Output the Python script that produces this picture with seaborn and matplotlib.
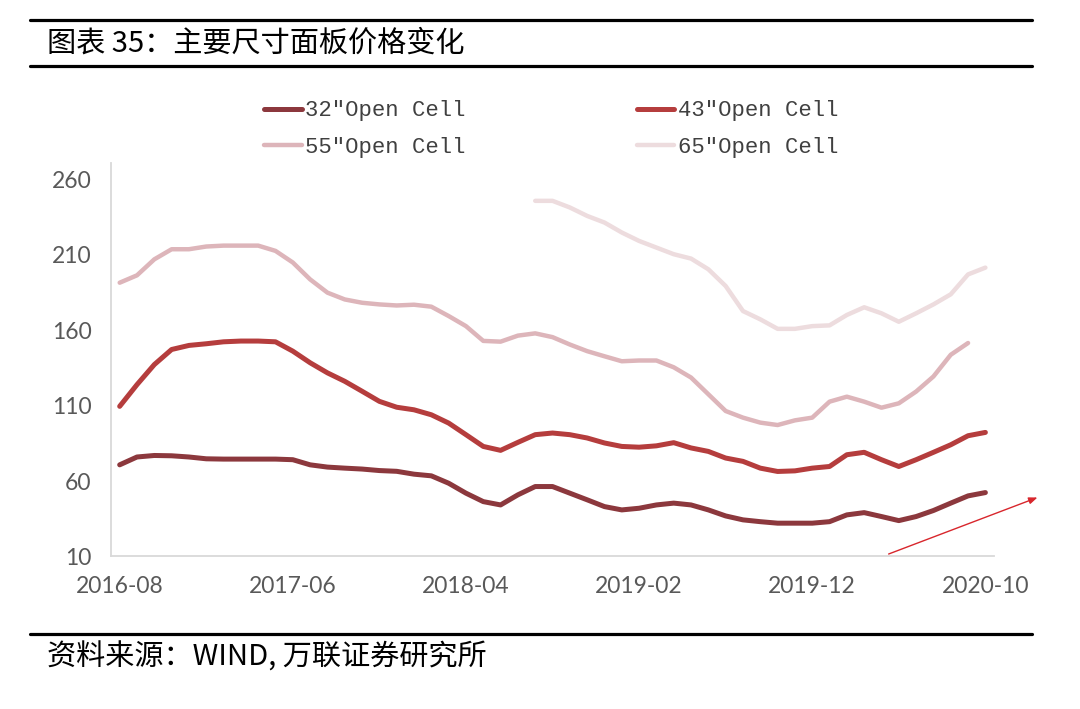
import numpy as np
import matplotlib
matplotlib.use("Agg")
import matplotlib.pyplot as plt
import pandas as pd
import seaborn as sns
from matplotlib.lines import Line2D

# monthly panel prices (USD), 2016-08 .. 2020-10
months = [str(p) for p in pd.period_range("2016-08", "2020-10", freq="M")]
nan = np.nan

p32 = [70.8, 76, 77, 76.8, 76, 74.8, 74.6, 74.6, 74.6, 74.6, 74.2,
       70.8, 69.3, 68.6, 68, 67, 66.5, 64.6, 63.5, 58.6, 52,
       46.4, 44.2, 50.9, 56.4, 56.4, 52, 47.6, 43.1, 40.9, 42,
       44.2, 45.4, 44.2, 40.9, 36.9, 34.3, 33.1, 32.1, 32.1, 32.1,
       33.1, 37.6, 39.1, 36.5, 33.8, 36.5, 40.5, 45.4, 50.2, 52.4]
p43 = [109.6, 124, 137.3, 147.3, 150, 151.1, 152.4, 152.9, 152.9, 152.4, 146.2,
       138.5, 131.8, 126.2, 119.6, 112.9, 109, 107.3, 104, 98.5, 90.8,
       83, 80.4, 85.7, 90.8, 91.9, 90.8, 88.6, 85.3, 83, 82.5,
       83.4, 85.5, 82, 79.7, 75.3, 73.1, 68.6, 66.4, 66.8, 68.6,
       69.7, 77.5, 79.1, 74.2, 69.7, 74.2, 79.1, 84.1, 90.1, 92.3]
p55 = [191.6, 196.5, 207.1, 213.8, 213.8, 215.6, 216.2, 216.2, 216.2, 212.7, 205,
       193.8, 185, 180.5, 178.3, 177.2, 176.5, 177, 175.7, 169.5, 162.8,
       153, 152.5, 156.5, 158, 155.5, 150.6, 146.2, 142.8, 139.5, 140,
       140, 135.5, 128.7, 117.6, 106.5, 102.1, 98.8, 97.2, 100.3, 102.1,
       112.7, 116, 112.7, 108.7, 111.6, 119.4, 129.4, 143.8, 151.6, nan]
p65 = [nan] * 24 + [245.9, 245.9, 241.5, 235.9, 231.5, 224.9, 219.3, 214.9, 210.5,
                    207.6, 200.5, 189.4, 172.8, 167.3, 161, 161, 162.8, 163.3,
                    170.2, 175.3, 171.3, 165.7, 171.3, 177.2, 183.9, 197.1, 201.6]

names = ['32"Open Cell', '43"Open Cell', '55"Open Cell', '65"Open Cell']
colors = ["#8c383d", "#b53d3d", "#ddb5ba", "#eddcde"]
widths = [3.6, 3.6, 3.2, 3.2]

sns.set_style("white")
plt.rcParams['font.family'] = ['Noto Sans CJK SC', 'DejaVu Sans']

fig = plt.figure(figsize=(10.8, 7.09), dpi=100)
ax = fig.add_axes([0.1028, 0.2151, 0.8176, 0.555])

x = np.arange(len(months))
for vals, name, c, w in zip([p32, p43, p55, p65], names, colors, widths):
    sns.lineplot(x=x, y=vals, ax=ax, color=c, lw=w, label=name,
                 solid_capstyle="round", solid_joinstyle="round")
if ax.get_legend() is not None:
    ax.get_legend().remove()

ax.set_xlim(-0.5, len(months) - 0.5)
ax.set_ylim(10, 271)
ax.set_yticks(np.arange(10, 261, 50))
ax.set_xticks(x[::10])
ax.set_xticklabels(months[::10])
ax.tick_params(length=0, labelsize=16.5, labelcolor="#595959")
ax.tick_params(axis="y", pad=14)
ax.tick_params(axis="x", pad=14)
for lab in ax.get_xticklabels() + ax.get_yticklabels():
    lab.set_family("Lato")
for s in ["top", "right"]:
    ax.spines[s].set_visible(False)
for s in ["left", "bottom"]:
    ax.spines[s].set_color("#d9d9d9")
    ax.spines[s].set_linewidth(1.3)

# legend: row 1 -> 32", 43"; row 2 -> 55", 65"
h, l = ax.get_legend_handles_labels()
order = [0, 2, 1, 3]
fig.legend([h[i] for i in order], [l[i] for i in order], ncol=2,
           loc="upper left", bbox_to_anchor=(0.234, 0.874), frameon=False,
           handlelength=1.7, handletextpad=0.15, columnspacing=7.7,
           labelspacing=0.68, borderpad=0,
           prop={"family": "Liberation Mono", "size": 16}, labelcolor="#404040")

# report frame: rules, title and source
for yy in [0.9718, 0.9069, 0.1058]:
    fig.add_artist(Line2D([0.0278, 0.9556], [yy, yy], color="black", lw=2.3))
fig.text(0.0435, 0.938, "图表 35：主要尺寸面板价格变化", fontsize=21,
         va="center", ha="left", color="black")
fig.text(0.0435, 0.072, "资料来源：WIND, 万联证券研究所", fontsize=21,
         va="center", ha="left", color="black", style="italic")

# red trend arrow
fig.add_artist(matplotlib.patches.FancyArrowPatch(
    (0.8204, 0.2172), (0.963, 0.2997), transform=fig.transFigure,
    arrowstyle="-|>,head_length=5,head_width=2", color="#d8262c", lw=1.0))

fig.savefig("out.png", dpi=100)
